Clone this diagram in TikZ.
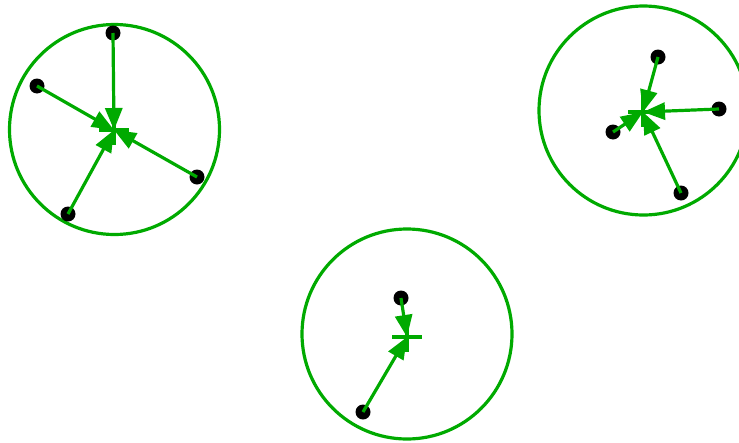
\documentclass[tikz,border=0pt]{standalone}
\usetikzlibrary{arrows.meta}
\definecolor{clgreen}{RGB}{0,170,0}

\begin{document}
\begin{tikzpicture}[x=1pt, y=-1pt, >={Triangle[length=22pt,width=17pt]},
  pt/.style={circle,fill=black,inner sep=0pt,minimum size=15pt},
  ring/.style={draw=clgreen,line width=3.2pt},
  mv/.style={draw=clgreen,line width=3.2pt,->},
  ctr/.style={draw=clgreen,line width=3.2pt},
]
\useasboundingbox (0,0) rectangle (739,442);

% Cluster 1 (top left)
\coordinate (k1) at (114.5,129.5);
\coordinate (c1) at (114,130);
\draw[ring] (k1) circle[radius=105];
\node[pt] (a1) at (113,33) {};
\node[pt] (a2) at (37,86) {};
\node[pt] (a3) at (197,177) {};
\node[pt] (a4) at (68,214) {};
\draw[ctr] (c1) +(-15,0) -- +(15,0) (c1) +(0,-15) -- +(0,15);
\draw[mv] (a1.center) -- (c1);
\draw[mv] (a2.center) -- (c1);
\draw[mv] (a3.center) -- (c1);
\draw[mv] (a4.center) -- (c1);

% Cluster 2 (top right)
\coordinate (k2) at (643.5,110.5);
\coordinate (c2) at (643,112);
\draw[ring] (k2) circle[radius=104.5];
\node[pt] (b1) at (658,57) {};
\node[pt] (b2) at (719,109) {};
\node[pt] (b3) at (613,132) {};
\node[pt] (b4) at (681,193) {};
\draw[ctr] (c2) +(-15,0) -- +(15,0) (c2) +(0,-15) -- +(0,15);
\draw[mv] (b1.center) -- (c2);
\draw[mv] (b2.center) -- (c2);
\draw[mv] (b3.center) -- (c2);
\draw[mv] (b4.center) -- (c2);

% Cluster 3 (bottom middle)
\coordinate (k3) at (407,334);
\coordinate (c3) at (407,337);
\draw[ring] (k3) circle[radius=105];
\node[pt] (d1) at (401,298) {};
\node[pt] (d2) at (363,412) {};
\draw[ctr] (c3) +(-15,0) -- +(15,0) (c3) +(0,-15) -- +(0,15);
\draw[mv] (d1.center) -- (c3);
\draw[mv] (d2.center) -- (c3);

\end{tikzpicture}
\end{document}
